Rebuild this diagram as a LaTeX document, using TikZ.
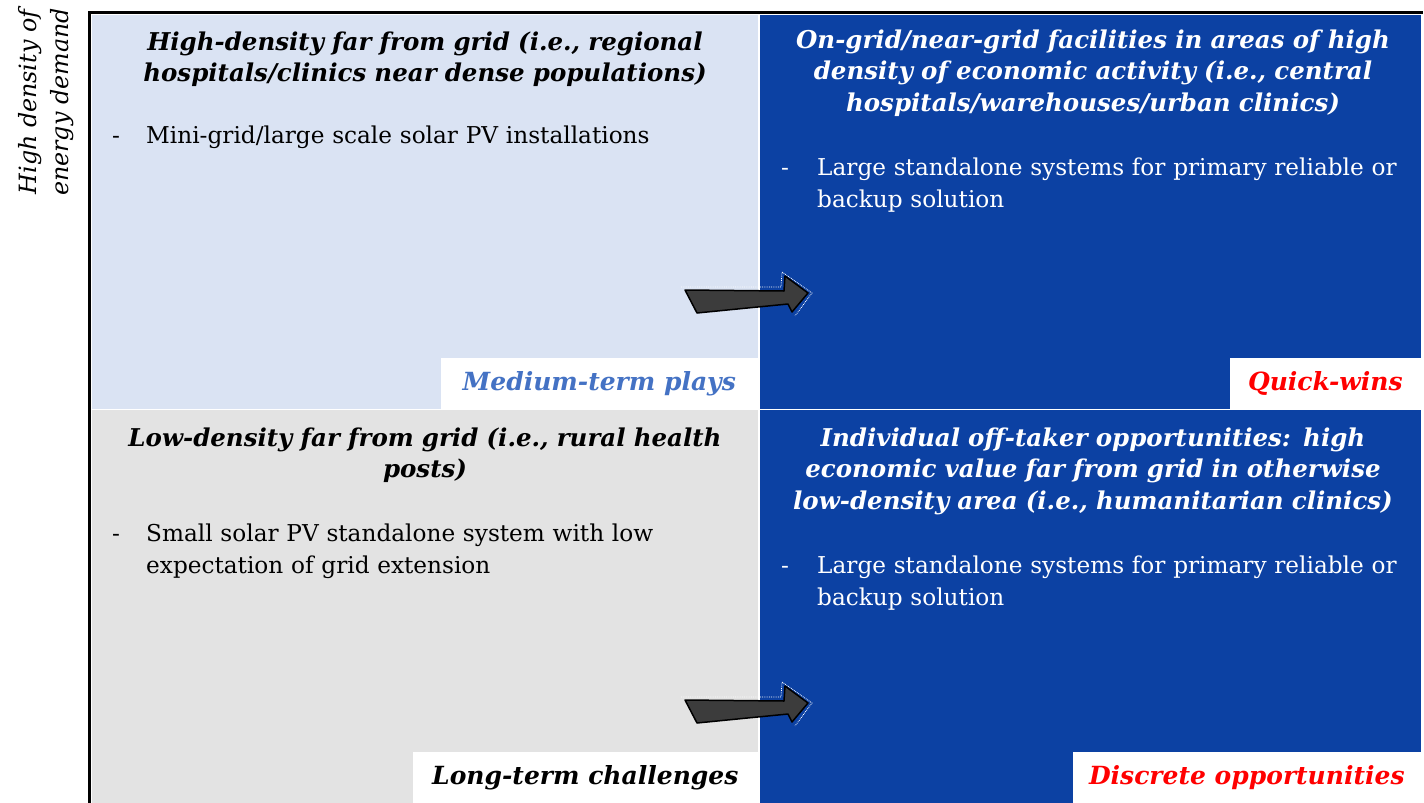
\documentclass[tikz,border=0pt]{standalone}
\usepackage{fontspec}
\setmainfont{DejaVu Serif}
\usetikzlibrary{positioning}

\definecolor{paleblue}{RGB}{218,227,243}
\definecolor{palegrey}{RGB}{227,227,227}
\definecolor{deepblue}{RGB}{12,65,163}
\definecolor{tagblue}{RGB}{68,114,196}
\definecolor{arrowgrey}{RGB}{60,60,60}

\tikzset{
	quadtitle/.style={font=\bfseries\itshape\fontsize{24.5}{31.5}\selectfont, align=center, text width=660pt, inner sep=0pt, anchor=base},
	quadbody/.style={font=\fontsize{23.2}{32}\selectfont, align=left, text width=600pt, inner sep=0pt, anchor=base west},
	quaddash/.style={font=\fontsize{23.2}{32}\selectfont, inner sep=0pt, anchor=base west},
	quadtag/.style={fill=white, font=\bfseries\itshape\fontsize{25}{28}\selectfont, minimum height=51pt, inner sep=0pt, anchor=south east},
	sketchy/.style={draw=black, line width=1.5pt, fill=arrowgrey, line join=round}
}

\begin{document}
\begin{tikzpicture}[x=1pt, y=-1pt]
	\useasboundingbox (0,0) rectangle (1424,803);
	% the four fields
	\fill[paleblue] (92,15) rectangle (758,409);
	\fill[palegrey] (92,410) rectangle (758,803);
	\fill[deepblue] (760,15) rectangle (1421,409);
	\fill[deepblue] (760,410) rectangle (1421,803);
	% axes
	\draw[line width=3.5pt] (89.5,803) -- (89.5,12.5) -- (1423,12.5);
	\node[rotate=90, align=center, font=\itshape\fontsize{23.8}{32}\selectfont] (axis) at (46,102) {High density of\\energy demand};

	% top left
	\node[quadtitle] (tltitle) at (425,50) {High-density far from grid (i.e., regional\\hospitals/clinics near dense populations)};
	\node[quaddash] (tldash) at (112,143) {-};
	\node[quadbody] (tlbody) at (146,143) {Mini-grid/large scale solar PV installations};
	\node[quadtag, minimum width=317pt, text=tagblue] (tltag) at (758,409) {Medium-term plays};

	% top right
	\node[quadtitle, text=white] (trtitle) at (1093,48) {On-grid/near-grid facilities in areas of high\\density of economic activity (i.e., central\\hospitals/warehouses/urban clinics)};
	\node[quaddash, text=white] (trdash) at (781,175) {-};
	\node[quadbody, text=white] (trbody) at (817,175) {Large standalone systems for primary reliable or\\backup solution};
	\node[quadtag, minimum width=191pt, text=red] (trtag) at (1421,409) {Quick-wins};

	% bottom left
	\node[quadtitle] (bltitle) at (425,446) {Low-density far from grid (i.e., rural health\\posts)};
	\node[quaddash] (bldash) at (112,541) {-};
	\node[quadbody] (blbody) at (146,541) {Small solar PV standalone system with low\\expectation of grid extension};
	\node[quadtag, minimum width=345pt, text=black] (bltag) at (758,803) {Long-term challenges};

	% bottom right
	\node[quadtitle, text=white] (brtitle) at (1093,446) {Individual off-taker opportunities: high\\economic value far from grid in otherwise\\low-density area (i.e., humanitarian clinics)};
	\node[quaddash, text=white] (brdash) at (781,573) {-};
	\node[quadbody, text=white] (brbody) at (817,573) {Large standalone systems for primary reliable or\\backup solution};
	\node[quadtag, minimum width=348pt, text=red] (brtag) at (1421,803) {Discrete opportunities};

	% arrows across the columns
	\draw[white, densely dotted, line width=0.8pt] (681,287) -- (781,287) -- (782,272) -- (812,293) -- (795,316);
	\draw[sketchy] (685,290) -- (784,291) -- (785,276) -- (808,293) -- (792,312) -- (788,304) -- (697,313) -- cycle;
	\begin{scope}[shift={(0,410)}]
	\draw[white, densely dotted, line width=0.8pt] (681,287) -- (781,287) -- (782,272) -- (812,293) -- (795,316);
	\draw[sketchy] (685,290) -- (784,291) -- (785,276) -- (808,293) -- (792,312) -- (788,304) -- (697,313) -- cycle;
	\end{scope}
\end{tikzpicture}
\end{document}
